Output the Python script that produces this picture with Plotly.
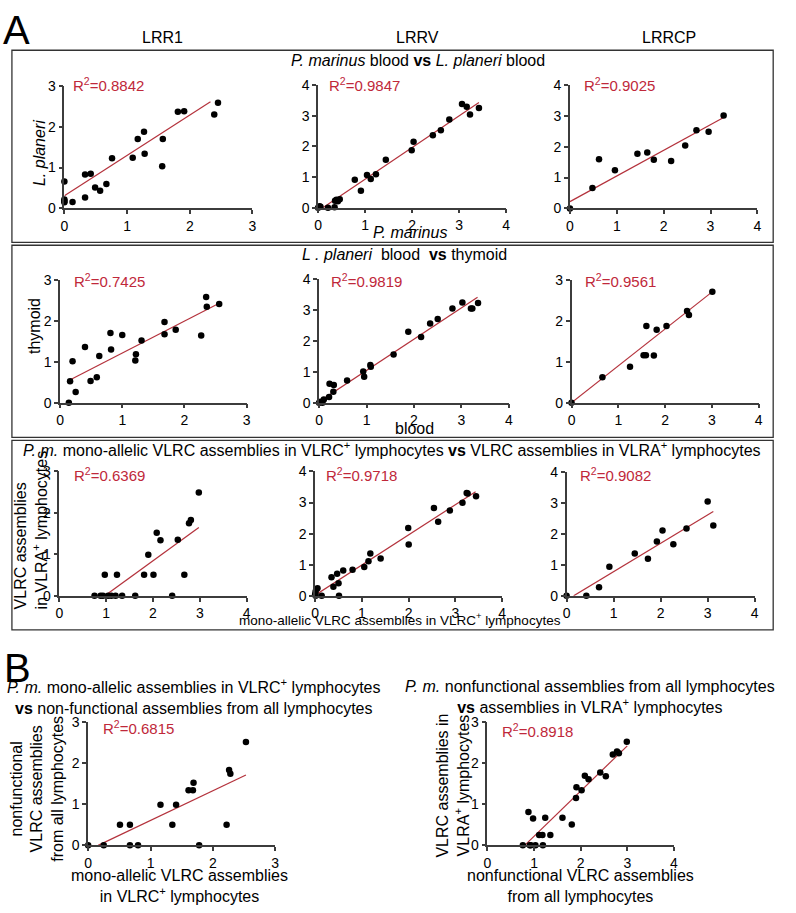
import plotly.graph_objects as go

W, H = 796, 913

# ---------------- data ----------------
# Row A1: P. marinus blood vs L. planeri blood
r1c1_x = [0, 0, 0, 0, 0.13, 0.33, 0.33, 0.42, 0.49, 0.57, 0.67, 0.76, 1.09, 1.17, 1.27, 1.28, 1.56, 1.57, 1.81, 1.91, 2.39, 2.45]
r1c1_y = [0.66, 0.22, 0.18, 0.15, 0.16, 0.27, 0.83, 0.85, 0.51, 0.43, 0.60, 1.23, 1.24, 1.70, 1.88, 1.34, 1.03, 1.70, 2.37, 2.38, 2.30, 2.59]
r1c1_fit_x = [0, 2.33]
r1c1_fit_y = [0.31, 2.61]

r1c2_x = [0, 0.03, 0.05, 0.21, 0.35, 0.36, 0.39, 0.42, 0.46, 0.78, 0.91, 1.04, 1.12, 1.23, 1.44, 1.99, 2.03, 2.44, 2.61, 2.79, 3.06, 3.16, 3.23, 3.42]
r1c2_y = [0, 0.05, 0.03, 0, 0.02, 0.23, 0.26, 0.21, 0.28, 0.91, 0.55, 1.07, 0.94, 1.09, 1.56, 1.87, 2.15, 2.36, 2.52, 2.87, 3.38, 3.29, 3.04, 3.25]
r1c2_fit_x = [0.1, 3.42]
r1c2_fit_y = [0.0, 3.43]

r1c3_x = [0, 0.48, 0.62, 0.96, 1.44, 1.65, 1.79, 2.16, 2.46, 2.70, 2.96, 3.28]
r1c3_y = [0, 0.66, 1.59, 1.24, 1.77, 1.81, 1.58, 1.54, 2.04, 2.53, 2.48, 3.01]
r1c3_fit_x = [0, 3.27]
r1c3_fit_y = [0.22, 2.94]

# Row A2: L. planeri blood vs thymoid
r2c1_x = [0.14, 0.16, 0.20, 0.25, 0.40, 0.49, 0.59, 0.63, 0.81, 0.82, 1.00, 1.21, 1.22, 1.31, 1.68, 1.68, 1.86, 2.27, 2.35, 2.36, 2.56]
r2c1_y = [0, 0.52, 1.01, 0.26, 1.36, 0.53, 0.62, 1.14, 1.70, 1.30, 1.65, 1.03, 1.18, 1.52, 1.97, 1.67, 1.78, 1.64, 2.58, 2.34, 2.41]
r2c1_fit_x = [0.14, 2.56]
r2c1_fit_y = [0.54, 2.43]

r2c2_x = [0, 0.03, 0.07, 0.10, 0.21, 0.22, 0.31, 0.30, 0.59, 0.93, 0.95, 1.08, 1.09, 1.57, 1.88, 2.15, 2.34, 2.50, 2.81, 3.02, 3.20, 3.23, 3.35]
r2c2_y = [0, 0.03, 0, 0.10, 0.18, 0.61, 0.57, 0.35, 0.72, 1.01, 0.84, 1.22, 1.16, 1.56, 2.29, 2.12, 2.56, 2.70, 3.04, 3.24, 3.04, 3.04, 3.22]
r2c2_fit_x = [0, 3.34]
r2c2_fit_y = [0.03, 3.41]

r2c3_x = [0, 0.66, 1.25, 1.54, 1.59, 1.60, 1.76, 1.82, 2.03, 2.47, 2.51, 3.01]
r2c3_y = [0, 0.62, 0.88, 1.16, 1.16, 1.87, 1.15, 1.78, 1.87, 2.24, 2.14, 2.71]
r2c3_fit_x = [0, 3.0]
r2c3_fit_y = [0, 2.70]

# Row A3: mono-allelic VLRC (VLRC+) vs VLRC in VLRA+
r3c1_x = [0.75, 0.88, 0.93, 0.97, 1.04, 1.11, 1.20, 1.23, 1.34, 1.62, 1.81, 1.90, 2.01, 2.08, 2.16, 2.41, 2.53, 2.67, 2.77, 2.81, 2.98]
r3c1_y = [0, 0, 0, 0.51, 0, 0, 0, 0.51, 0, 0, 0.51, 0.99, 0.51, 1.52, 1.34, 0, 1.35, 0.51, 1.75, 1.83, 2.49]
r3c1_fit_x = [0.97, 2.98]
r3c1_fit_y = [0, 1.65]

r3c2_x = [0, 0.01, 0.05, 0.01, 0.14, 0.35, 0.39, 0.47, 0.50, 0.51, 0.60, 0.80, 1.05, 1.14, 1.18, 1.40, 1.99, 2.00, 2.54, 2.63, 2.88, 3.15, 3.24, 3.26, 3.44]
r3c2_y = [0.05, 0.14, 0.24, 0, 0, 0.60, 0.29, 0.71, 0.40, 0, 0.81, 0.84, 0.93, 1.11, 1.36, 1.20, 2.18, 1.65, 2.82, 2.38, 2.74, 2.99, 3.31, 3.29, 3.20]
r3c2_fit_x = [0, 3.43]
r3c2_fit_y = [0.02, 3.35]

r3c3_x = [0, 0.42, 0.69, 0.91, 1.45, 1.73, 1.92, 2.04, 2.27, 2.55, 3.00, 3.12]
r3c3_y = [0, 0, 0.28, 0.94, 1.37, 1.20, 1.76, 2.12, 1.67, 2.18, 3.06, 2.28]
r3c3_fit_x = [0.15, 3.12]
r3c3_fit_y = [0, 2.73]

# Panel B
b1_x = [0, 0.25, 0.51, 0.67, 0.67, 0.80, 1.16, 1.35, 1.41, 1.61, 1.68, 1.69, 1.78, 2.22, 2.26, 2.28, 2.53]
b1_y = [0, 0, 0.50, 0.50, 0, 0, 0.99, 0.50, 0.99, 1.34, 1.34, 1.52, 0, 0.50, 1.83, 1.74, 2.51]
b1_fit_x = [0.16, 2.53]
b1_fit_y = [0, 1.71]

b2_x = [0.76, 0.88, 0.91, 0.93, 0.98, 1.03, 1.11, 1.18, 1.19, 1.24, 1.35, 1.61, 1.81, 1.90, 1.91, 2.02, 2.09, 2.17, 2.42, 2.54, 2.69, 2.78, 2.82, 2.99]
b2_y = [0, 0.81, 0, 0, 0.65, 0, 0.25, 0.25, 0, 0.67, 0.25, 0.67, 0.51, 1.15, 1.41, 1.34, 1.69, 1.61, 1.77, 1.68, 2.21, 2.28, 2.24, 2.52]
b2_fit_x = [0.80, 3.0]
b2_fit_y = [0, 2.42]

r_squared = ["0.8842", "0.9847", "0.9025", "0.7425", "0.9819", "0.9561",
             "0.6369", "0.9718", "0.9082", "0.6815", "0.8918"]
column_labels = ["LRR1", "LRRV", "LRRCP"]

# ---------------- layout helpers ----------------
FONT = "Liberation Sans, Arial, sans-serif"
NARROW = "Liberation Sans Narrow, Arial Narrow, " + FONT
RED_LINE = "#b4323c"
RED_TXT = "#c0283a"
AX = "#3c3c3c"

def px_x(x):
    return x / W

def px_y(y):
    return 1 - y / H

# (x, y, fit_x, fit_y, plot box px (x0, x1, ytop, ybot), xmax, ymax, R2 label px position)
panels = [
    (r1c1_x, r1c1_y, r1c1_fit_x, r1c1_fit_y, (61, 251, 79.3, 204), 3, 3, (68, 78)),
    (r1c2_x, r1c2_y, r1c2_fit_x, r1c2_fit_y, (317.3, 507.3, 78.3, 203.3), 4, 4, (326, 78)),
    (r1c3_x, r1c3_y, r1c3_fit_x, r1c3_fit_y, (571.7, 761, 78.3, 204), 4, 4, (584, 78)),
    (r2c1_x, r2c1_y, r2c1_fit_x, r2c1_fit_y, (56.7, 245, 276.7, 401.7), 3, 3, (69, 277)),
    (r2c2_x, r2c2_y, r2c2_fit_x, r2c2_fit_y, (318.3, 510, 275.7, 401.7), 4, 4, (328, 277)),
    (r2c3_x, r2c3_y, r2c3_fit_x, r2c3_fit_y, (573.3, 762.3, 276.7, 401.7), 4, 3, (585, 277)),
    (r3c1_x, r3c1_y, r3c1_fit_x, r3c1_fit_y, (56, 245, 471.7, 598.3), 4, 3, (69, 475)),
    (r3c2_x, r3c2_y, r3c2_fit_x, r3c2_fit_y, (314.3, 503.3, 471.7, 598.3), 4, 4, (323, 475)),
    (r3c3_x, r3c3_y, r3c3_fit_x, r3c3_fit_y, (568.3, 758.3, 472.7, 598.3), 4, 4, (580, 475)),
    (b1_x, b1_y, b1_fit_x, b1_fit_y, (85, 274, 726.7, 852.3), 3, 3, (98, 732)),
    (b2_x, b2_y, b2_fit_x, b2_fit_y, (488.3, 676.7, 726.7, 852.3), 4, 3, (501, 735)),
]

fig = go.Figure()
layout = dict(
    width=W, height=H, margin=dict(l=0, r=0, t=0, b=0),
    paper_bgcolor="white", plot_bgcolor="white", showlegend=False,
    font=dict(family=FONT, size=14, color="black"),
)
annotations = []

def txt(x, y, text, size=15, xanchor="center", yanchor="middle", angle=0,
        family=FONT, color="black", align="center"):
    annotations.append(dict(
        x=px_x(x), y=px_y(y), xref="paper", yref="paper", text=text, showarrow=False,
        xanchor=xanchor, yanchor=yanchor, textangle=angle, align=align,
        font=dict(family=family, size=size, color=color)))

for i, (xs, ys, fx, fy, box, xmax, ymax, r2pos) in enumerate(panels):
    n = i + 1
    xa = "x" if n == 1 else f"x{n}"
    ya = "y" if n == 1 else f"y{n}"
    x0, x1, yt, yb = box
    axis_common = dict(
        showline=True, linecolor=AX, linewidth=1.5, ticks="outside", ticklen=4,
        tickwidth=1.5, tickcolor=AX, showgrid=False, zeroline=False, dtick=1,
        tickfont=dict(family=FONT, size=14, color="black"), fixedrange=True,
    )
    layout[f"xaxis{'' if n == 1 else n}"] = dict(
        domain=[px_x(x0), px_x(x1)], range=[0, xmax], anchor=ya, **axis_common)
    layout[f"yaxis{'' if n == 1 else n}"] = dict(
        domain=[px_y(yb), px_y(yt)], range=[0, ymax], anchor=xa, **axis_common)
    fig.add_trace(go.Scatter(x=fx, y=fy, mode="lines", xaxis=xa, yaxis=ya,
                             line=dict(color=RED_LINE, width=1.2), hoverinfo="skip"))
    fig.add_trace(go.Scatter(x=xs, y=ys, mode="markers", xaxis=xa, yaxis=ya,
                             marker=dict(color="black", size=6.5), cliponaxis=False))
    txt(r2pos[0], r2pos[1], "R<sup>2</sup>=" + r_squared[i], size=15,
        xanchor="left", color=RED_TXT)

# Panel letters and column headers
txt(13, 22, "A", size=40, family=NARROW)
txt(14, 672, "B", size=40, family=NARROW)
for lab, cx in zip(column_labels, [160, 418, 672]):
    txt(cx, 30, lab, size=16, family=NARROW)

# Row titles
txt(418, 53, "<i>P. marinus</i> blood <b>vs</b> <i>L. planeri</i> blood", size=16, family=NARROW)
txt(405, 251, "<i>L . planeri</i>  blood  <b>vs</b> thymoid", size=16)
txt(392, 449, "<i>P. m.</i> mono-allelic VLRC assemblies in VLRC<sup>+</sup> lymphocytes <b>vs</b> VLRC assemblies in VLRA<sup>+</sup> lymphocytes", size=16)

# Axis titles, section A
txt(36, 148, "<i>L. planeri</i>", size=16, angle=-90)
txt(410, 228, "<i>P. marinus</i>", size=16)
txt(31, 324, "thymoid", size=16, angle=-90)
txt(415, 428, "blood", size=16)
txt(27, 531, "VLRC assemblies<br>in VLRA<sup>+</sup> lymphocytes", size=16, angle=-90, align="left")
txt(400, 622, "mono-allelic VLRC assemblies in VLRC<sup>+</sup> lymphocytes", size=13.5)

# Section B titles
txt(192, 701, "<i>P. m.</i> mono-allelic assemblies in VLRC<sup>+</sup> lymphocytes<br><b>vs</b> non-functional assemblies from all lymphocytes", size=16)
txt(592, 701, "<i>P. m.</i> nonfunctional assemblies from all lymphocytes<br><b>vs</b> assemblies in VLRA<sup>+</sup> lymphocytes", size=16)
txt(33, 795, "nonfunctional<br>VLRC assemblies<br>from all lymphocytes", size=16, angle=-90)
txt(177, 894, "mono-allelic VLRC assemblies<br>in VLRC<sup>+</sup> lymphocytes", size=16)
txt(454, 791, "VLRC assemblies in<br>VLRA<sup>+</sup> lymphocytes", size=16, angle=-90)
txt(582, 894, "nonfunctional VLRC assemblies<br>from all lymphocytes", size=16)

# Boxes around section A rows
shapes = []
for (t, b) in [(43, 238.5), (241.5, 437), (440, 633)]:
    shapes.append(dict(type="rect", xref="paper", yref="paper",
                       x0=px_x(8), x1=px_x(777), y0=px_y(b), y1=px_y(t),
                       line=dict(color="#333333", width=1.3)))

layout["annotations"] = annotations
layout["shapes"] = shapes
fig.update_layout(**layout)
fig.write_html("out.html", config={"displayModeBar": False},
               post_script="document.body.style.margin='0px';document.body.style.overflow='hidden';")
